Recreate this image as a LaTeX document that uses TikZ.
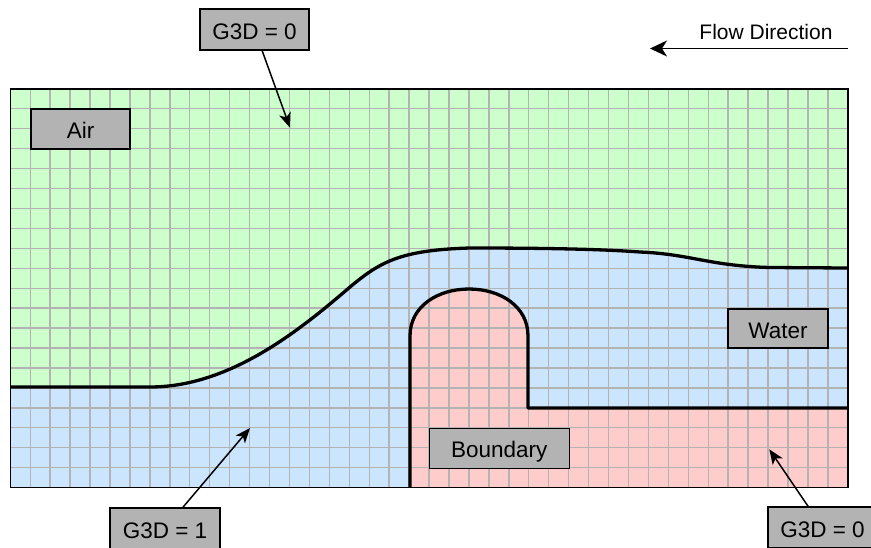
\documentclass[tikz,border=0pt]{standalone}
\usepackage{fontspec}
\setmainfont{Liberation Sans}
\usetikzlibrary{arrows.meta}
\definecolor{airc}{HTML}{CCFFCC}
\definecolor{waterc}{HTML}{CCE5FF}
\definecolor{bndc}{HTML}{FFCCCC}
\definecolor{gridc}{HTML}{B3B3B3}
\definecolor{boxc}{HTML}{B3B3B3}
\begin{document}
\begin{tikzpicture}[x=1pt,y=-1pt,
 lbl/.style={draw=black, line width=1.2pt, fill=boxc, inner sep=0pt, text height=19pt, text depth=0pt, font=\fontsize{22.5}{24}\selectfont, text=black},
 thickline/.style={line width=3.3pt, line join=round},
 gridline/.style={gridc, line width=1.4pt},
 pointer/.style={line width=1.5pt, -{Stealth[length=15pt,width=12pt,inset=4pt]}},
]
\useasboundingbox (0,0) rectangle (871,547);
\clip (0,0) rectangle (871,547);
\fill[white] (0,0) rectangle (871,547);
\def\L{10.3} \def\R{847.8} \def\T{88.8} \def\B{487.6}
% regions
\fill[waterc] (\L,\T) rectangle (\R,\B);
\fill[airc] (\L,387) -- (150,387) .. controls (230,387) and (300,330) .. (350,287)
  .. controls (380,262) and (400,250) .. (470,248)
  .. controls (540,248) and (600,249) .. (640,252)
  .. controls (690,254) and (710,266) .. (770,267.5) -- (\R,268) -- (\R,\T) -- (\L,\T) -- cycle;
\fill[bndc] (410,\B) -- (410,336) .. controls (410,306) and (438,289) .. (469,289)
  .. controls (500,289) and (528,306) .. (528,336) -- (528,408) -- (\R,408) -- (\R,\B) -- cycle;
% grid
\foreach \i in {1,...,41} \draw[gridline] ({\L+\i*19.94},\T) -- ({\L+\i*19.94},\B);
\foreach \j in {1,...,19} \draw[gridline] (\L,{\T+\j*19.94}) -- (\R,{\T+\j*19.94});
% border
\draw[line width=1.5pt] (\L,\T) rectangle (\R,\B);
% interface
\draw[thickline] (\L,387) -- (150,387) .. controls (230,387) and (300,330) .. (350,287)
  .. controls (380,262) and (400,250) .. (470,248)
  .. controls (540,248) and (600,249) .. (640,252)
  .. controls (690,254) and (710,266) .. (770,267.5) -- (\R,268);
% boundary outline
\draw[thickline] (410,\B) -- (410,336) .. controls (410,306) and (438,289) .. (469,289)
  .. controls (500,289) and (528,306) .. (528,336) -- (528,408) -- (\R,408);
% labels
\node[lbl, minimum width=99pt, minimum height=40pt] (air) at (80.5,129) {Air};
\node[lbl, minimum width=100pt, minimum height=39pt] (water) at (778,328.5) {Water};
\node[lbl, minimum width=140pt, minimum height=40pt] (bnd) at (499.3,448.3) {Boundary};
\node[lbl, minimum width=109pt, minimum height=41pt] (gtop) at (254.5,29.5) {G3D = 0};
\node[lbl, minimum width=110pt, minimum height=41pt] (gone) at (165,528.5) {G3D = 1};
\node[lbl, minimum width=109pt, minimum height=41pt] (gright) at (822.5,527.5) {G3D = 0};
% pointers
\coordinate (ttop) at (290,127.7);
\coordinate (tone) at (250,428);
\coordinate (tright) at (769.3,449.3);
\draw[pointer] (gtop) -- (ttop);
\draw[pointer] (gone) -- (tone);
\draw[pointer] (gright) -- (tright);
% flow direction
\node[font=\fontsize{21}{24}\selectfont] (flow) at (766,32) {Flow Direction};
\coordinate (fs) at (848,48.5);
\coordinate (fe) at (650,48.5);
\draw[line width=1.5pt, -{Stealth[length=17pt,width=16pt,inset=5pt]}] (fs) -- (fe);
\end{tikzpicture}
\end{document}
